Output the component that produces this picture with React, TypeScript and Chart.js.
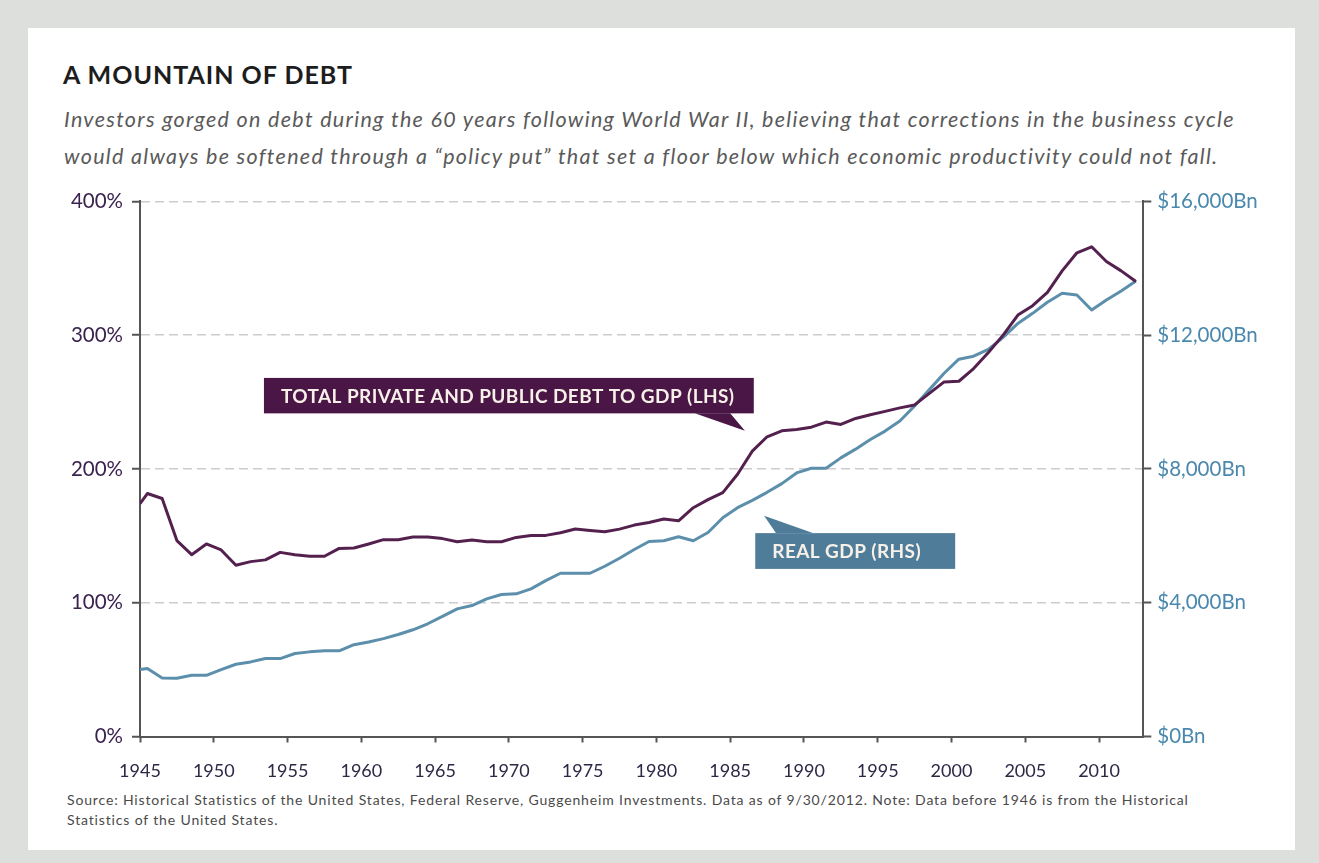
import React, { useEffect, useRef } from 'react';
import { Chart, registerables } from 'chart.js';

Chart.register(...registerables);

// ---- data ----
const years = [
  1945, 1946, 1947, 1948, 1949, 1950, 1951, 1952, 1953, 1954,
  1955, 1956, 1957, 1958, 1959, 1960, 1961, 1962, 1963, 1964,
  1965, 1966, 1967, 1968, 1969, 1970, 1971, 1972, 1973, 1974,
  1975, 1976, 1977, 1978, 1979, 1980, 1981, 1982, 1983, 1984,
  1985, 1986, 1987, 1988, 1989, 1990, 1991, 1992, 1993, 1994,
  1995, 1996, 1997, 1998, 1999, 2000, 2001, 2002, 2003, 2004,
  2005, 2006, 2007, 2008, 2009, 2010, 2011, 2012,
];

// Total private and public debt to GDP, % (LHS)
const debtToGdp = [
  181.6, 177.9, 146.4, 135.9, 143.9, 139.4, 128.0, 130.7, 132.0, 137.6,
  135.9, 134.7, 134.7, 140.6, 140.9, 143.9, 147.1, 147.1, 149.1, 149.1,
  147.9, 145.6, 146.9, 145.6, 145.6, 148.8, 150.3, 150.3, 152.3, 155.1,
  154.0, 153.0, 155.0, 158.0, 160.0, 162.5, 161.2, 171.0, 177.0, 182.3,
  196.0, 213.3, 224.0, 228.5, 229.5, 231.2, 235.0, 233.2, 237.7, 240.5,
  243.0, 245.6, 247.8, 256.5, 265.0, 265.5, 275.0, 287.0, 300.0, 315.0,
  322.0, 332.0, 348.0, 361.5, 366.0, 355.0, 348.0, 340.0,
];

// Real GDP, $Bn (RHS)
const realGdp = [
  2030, 1750, 1740, 1830, 1830, 2000, 2160, 2230, 2330, 2330,
  2480, 2530, 2560, 2560, 2745, 2825, 2925, 3050, 3190, 3370,
  3590, 3815, 3915, 4115, 4245, 4265, 4415, 4660, 4880, 4880,
  4880, 5090, 5330, 5590, 5830, 5850, 5970, 5850, 6100, 6540,
  6840, 7060, 7300, 7560, 7880, 8020, 8020, 8330, 8590, 8880,
  9130, 9430, 9880, 10370, 10860, 11280, 11370, 11570, 11930, 12350,
  12650, 12980, 13250, 13200, 12750, 13050, 13320, 13620,
];

// values at the very start of 1945 (where the lines begin on the axis)
const debtAtStart = 174;
const gdpAtStart = 2000;

const xTickYears = [1945, 1950, 1955, 1960, 1965, 1970, 1975, 1980, 1985, 1990, 1995, 2000, 2005, 2010];
const debtTicks = [0, 100, 200, 300, 400];
const gdpTicks = [0, 4000, 8000, 12000, 16000];

const TITLE = 'A MOUNTAIN OF DEBT';
const SUB1 = 'Investors gorged on debt during the 60 years following World War II, believing that corrections in the business cycle';
const SUB2 = 'would always be softened through a \u201Cpolicy put\u201D that set a floor below which economic productivity could not fall.';
const SRC1 = 'Source: Historical Statistics of the United States, Federal Reserve, Guggenheim Investments. Data as of 9/30/2012. Note: Data before 1946 is from the Historical';
const SRC2 = 'Statistics of the United States.';

const DEBT_COLOR = '#54214f';
const GDP_COLOR = '#5b8fab';

// callouts, placed in data space
const callouts = [
  {
    label: 'TOTAL PRIVATE AND PUBLIC DEBT TO GDP (LHS)', axis: 'yDebt', fill: '#4a1646',
    left: 1953.4, right: 1986.6, top: 268, bottom: 241.5,
    edge: 'bottom', pFrom: 1982.6, pTo: 1985.0, tipX: 1986.0, tipY: 228.5,
  },
  {
    label: 'REAL GDP (RHS)', axis: 'yGdp', fill: '#4f7d99',
    left: 1986.7, right: 2000.25, top: 6080, bottom: 5010,
    edge: 'top', pFrom: 1988.1, pTo: 1990.6, tipX: 1987.3, tipY: 6600,
  },
];

const calloutPlugin = {
  id: 'callouts',
  afterDatasetsDraw(chart: any) {
    const { ctx, scales } = chart;
    const xs = scales.x;
    ctx.save();
    callouts.forEach((c) => {
      const ys = scales[c.axis];
      const l = xs.getPixelForValue(c.left);
      const r = xs.getPixelForValue(c.right);
      const t = ys.getPixelForValue(c.top);
      const b = ys.getPixelForValue(c.bottom);
      ctx.fillStyle = c.fill;
      ctx.fillRect(l, t, r - l, b - t);
      const ey = c.edge === 'bottom' ? b : t;
      ctx.beginPath();
      ctx.moveTo(xs.getPixelForValue(c.pFrom), ey);
      ctx.lineTo(xs.getPixelForValue(c.tipX), ys.getPixelForValue(c.tipY));
      ctx.lineTo(xs.getPixelForValue(c.pTo), ey);
      ctx.closePath();
      ctx.fill();
      ctx.fillStyle = '#f7f0e8';
      ctx.font = 'bold 19px Lato';
      (ctx as any).letterSpacing = '0.4px';
      ctx.textAlign = 'left';
      ctx.textBaseline = 'alphabetic';
      ctx.fillText(c.label, l + 17, (t + b) / 2 + 7);
      (ctx as any).letterSpacing = '0px';
    });
    ctx.restore();
  },
};

const CANVAS_LEFT = 30;
const CANVAS_TOP = 180;
const CANVAS_W = 1262;
const CANVAS_H = 610;

export default function App() {
  const ref = useRef<HTMLCanvasElement | null>(null);

  useEffect(() => {
    if (!ref.current) return;
    const debtPts = [{ x: years[0], y: debtAtStart }, ...years.map((yr, i) => ({ x: yr + 0.5, y: debtToGdp[i] }))];
    const gdpPts = [{ x: years[0], y: gdpAtStart }, ...years.map((yr, i) => ({ x: yr + 0.5, y: realGdp[i] }))];

    const chart = new Chart(ref.current, {
      type: 'line',
      data: {
        datasets: [
          {
            label: 'Total private and public debt to GDP (LHS)',
            data: debtPts,
            yAxisID: 'yDebt',
            borderColor: DEBT_COLOR,
            borderWidth: 3,
            pointRadius: 0,
            tension: 0,
            borderJoinStyle: 'round',
          },
          {
            label: 'Real GDP (RHS)',
            data: gdpPts,
            yAxisID: 'yGdp',
            borderColor: GDP_COLOR,
            borderWidth: 3,
            pointRadius: 0,
            tension: 0,
            borderJoinStyle: 'round',
          },
        ],
      },
      options: {
        responsive: false,
        animation: false,
        devicePixelRatio: 1,
        layout: { padding: { top: 19.3, left: 0, right: 0, bottom: 0 } },
        plugins: { legend: { display: false }, tooltip: { enabled: false }, title: { display: false } },
        scales: {
          x: {
            type: 'linear',
            min: 1945,
            max: 2013,
            afterBuildTicks: (s: any) => { s.ticks = xTickYears.map((v) => ({ value: v })); },
            afterFit: (s: any) => { s.height = CANVAS_TOP + CANVAS_H - 736.5; },
            grid: { drawOnChartArea: false, drawTicks: true, tickLength: 6, tickColor: '#555', tickWidth: 2 },
            border: { display: true, color: '#555', width: 2 },
            ticks: {
              autoSkip: false, maxRotation: 0, padding: 18,
              color: '#2e2746', font: { family: 'Lato', size: 18 },
              callback: (v: any) => String(v),
            },
          },
          yDebt: {
            type: 'linear',
            position: 'left',
            min: 0,
            max: 400,
            afterBuildTicks: (s: any) => { s.ticks = debtTicks.map((v) => ({ value: v })); },
            afterFit: (s: any) => { s.width = 140 - CANVAS_LEFT; },
            grid: { color: '#cccccc', lineWidth: 1.5, tickLength: 8, tickColor: '#555', tickWidth: 2 },
            border: { display: true, color: '#555', width: 2, dash: [9, 5] },
            ticks: {
              padding: 9, color: '#3b2350', font: { family: 'Lato', size: 20.5 },
              callback: (v: any) => v + '%',
            },
          },
          yGdp: {
            type: 'linear',
            position: 'right',
            min: 0,
            max: 16000,
            afterBuildTicks: (s: any) => { s.ticks = gdpTicks.map((v) => ({ value: v })); },
            afterFit: (s: any) => { s.width = CANVAS_LEFT + CANVAS_W - 1143.3; },
            grid: { drawOnChartArea: false, tickLength: 8, tickColor: '#555', tickWidth: 2 },
            border: { display: true, color: '#555', width: 2 },
            ticks: {
              padding: 6, color: '#4a88ae', font: { family: 'Lato', size: 20.5 },
              callback: (v: any) => '$' + Number(v).toLocaleString('en-US') + 'Bn',
            },
          },
        },
      },
      plugins: [calloutPlugin],
    } as any);
    return () => chart.destroy();
  }, []);

  const abs = (o: any) => ({ position: 'absolute', ...o }) as React.CSSProperties;

  return (
    <div style={abs({ left: 0, top: 0, width: 1319, height: 863, background: '#dcdfdc', overflow: 'hidden' })}>
      <div style={abs({ left: 28, top: 28, width: 1267, height: 822, background: '#ffffff' })} />
      <div style={abs({ left: 63, top: 59, fontFamily: 'Lato', fontWeight: 700, fontSize: 25, lineHeight: 1.2, letterSpacing: 1.0, color: '#1d1d1d', whiteSpace: 'nowrap' })}>
        {TITLE}
      </div>
      <div style={abs({ left: 64, top: 101, fontFamily: 'Lato', fontStyle: 'italic', fontSize: 21.5, lineHeight: '37px', letterSpacing: 1.3, color: '#5a5a5a', whiteSpace: 'nowrap' })}>
        <div>{SUB1}</div>
        <div>{SUB2}</div>
      </div>
      <canvas
        ref={ref}
        width={CANVAS_W}
        height={CANVAS_H}
        style={abs({ left: CANVAS_LEFT, top: CANVAS_TOP, width: CANVAS_W, height: CANVAS_H })}
      />
      <div style={abs({ left: 67, top: 790, fontFamily: 'Lato', fontSize: 14, lineHeight: '20px', letterSpacing: 0.85, color: '#4a4a4a', whiteSpace: 'nowrap' })}>
        <div>{SRC1}</div>
        <div>{SRC2}</div>
      </div>
    </div>
  );
}
